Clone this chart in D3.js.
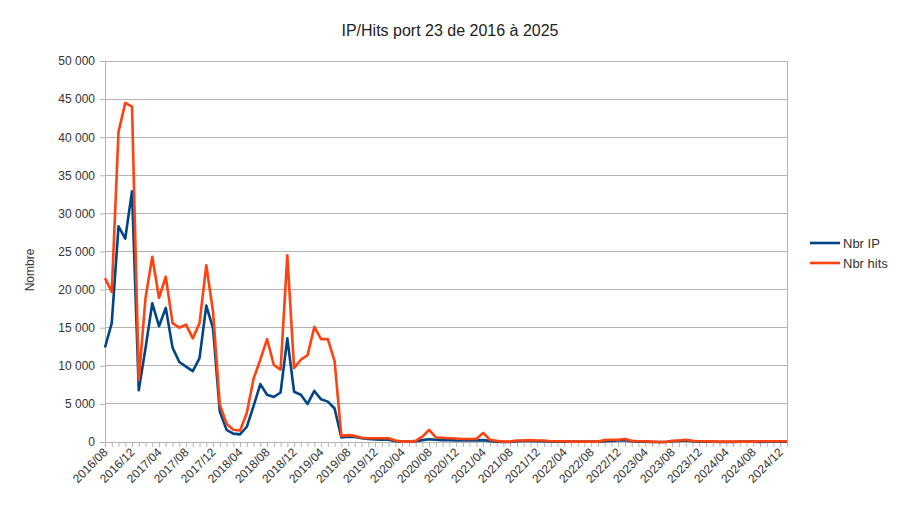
<!DOCTYPE html>
<html><head><meta charset="utf-8">
<script src="https://cdn.jsdelivr.net/npm/d3@7"></script>
<style>body{margin:0;background:#fff}svg{display:block;font-family:"Liberation Sans",Arial,sans-serif}</style>
</head><body>
<script>
const title = "IP/Hits port 23 de 2016 à 2025";
const yTitle = "Nombre";
const seriesNames = ["Nbr IP", "Nbr hits"];
const startYear = 2016, startMonth = 8, nMonths = 102;
const yTicks = [0,5000,10000,15000,20000,25000,30000,35000,40000,45000,50000];
const nbrIP = [12400,15600,28300,26700,32900,6800,12300,18200,15200,17600,
  12400,10500,9900,9300,11000,17900,14900,4000,1600,1100,
  1000,2000,4700,7600,6200,5900,6500,13600,6600,6200,
  5000,6700,5600,5300,4400,600,700,650,500,400,
  350,300,300,100,50,50,100,250,350,300,
  250,250,200,200,200,200,250,150,50,0,
  0,100,150,150,100,100,50,50,50,50,
  50,50,50,50,100,150,200,250,100,50,
  50,0,0,0,100,150,200,100,50,50,
  50,0,0,0,50,50,50,0,50,50,
  50,50];
const nbrHits = [21500,19700,40700,44500,44000,8100,18900,24300,18900,21700,
  15600,15000,15400,13600,15600,23200,17100,4900,2400,1600,
  1500,3800,8300,10800,13500,10100,9500,24500,9700,10800,
  11400,15100,13500,13500,10600,800,900,800,550,500,
  500,500,500,200,50,50,150,700,1600,600,
  550,500,450,400,400,400,1200,300,150,50,
  50,200,200,250,200,200,100,100,100,50,
  50,50,50,50,250,300,300,400,150,100,
  100,50,0,0,150,200,300,150,100,100,
  50,50,50,50,50,50,50,100,100,100,
  100,100];
const months = d3.range(nMonths).map(i => {
  const m = startMonth - 1 + i;
  const y = startYear + Math.floor(m / 12);
  const mm = (m % 12) + 1;
  return y + "/" + String(mm).padStart(2, "0");
});

const W = 900, H = 506;
const L = 105, R = 787, T = 61, B = 442;
const svg = d3.select("body").append("svg").attr("width", W).attr("height", H);

const x = d3.scalePoint().domain(months).range([L, R]);
const y = d3.scaleLinear().domain([0, 50000]).range([B, T]);
const fmt = v => d3.format(",")(v).replace(/,/g, "\u00a0");

// gridlines
svg.append("g").selectAll("line").data(yTicks).join("line")
  .attr("x1", L).attr("x2", R).attr("y1", d => y(d)).attr("y2", d => y(d))
  .attr("stroke", "#b3b3b3").attr("stroke-width", 1).attr("shape-rendering", "crispEdges");
svg.append("line").attr("x1", R).attr("x2", R).attr("y1", T).attr("y2", B)
  .attr("stroke", "#b3b3b3").attr("shape-rendering", "crispEdges");

// y axis
const yAxis = svg.append("g").attr("transform", `translate(${L},0)`)
  .call(d3.axisLeft(y).tickValues(yTicks).tickFormat(fmt).tickSize(5).tickPadding(5));
yAxis.select(".domain").attr("stroke", "#b3b3b3");
yAxis.selectAll(".tick line").attr("stroke", "#b3b3b3");
yAxis.selectAll("text").attr("font-size", 12).attr("fill", "#333").attr("font-family", "Liberation Sans, Arial, sans-serif");

// x axis
const xAxis = svg.append("g").attr("transform", `translate(0,${B})`)
  .call(d3.axisBottom(x).tickSize(5).tickFormat((d, i) => i % 4 === 0 ? d : ""));
xAxis.select(".domain").attr("stroke", "#b3b3b3");
xAxis.selectAll(".tick line").attr("stroke", "#b3b3b3");
xAxis.selectAll(".tick text")
  .attr("font-size", 12).attr("fill", "#333").attr("font-family", "Liberation Sans, Arial, sans-serif")
  .attr("text-anchor", "end").attr("dy", null).attr("y", 0)
  .attr("transform", "translate(3,11) rotate(-45)");

// lines
const colors = ["#004586", "#ff420e"];
const data = [nbrIP, nbrHits];
const line = d3.line().x((d, i) => x(months[i])).y(d => y(d));
data.forEach((s, j) => {
  svg.append("path").datum(s).attr("d", line).attr("fill", "none")
    .attr("stroke", colors[j]).attr("stroke-width", 2.6).attr("stroke-linejoin", "round");
});

// title
svg.append("text").attr("x", 450).attr("y", 36).attr("text-anchor", "middle")
  .attr("font-size", 16).attr("fill", "#222").text(title);
// y title
svg.append("text").attr("transform", "translate(34,270) rotate(-90)").attr("text-anchor", "middle")
  .attr("font-size", 12).attr("fill", "#333").text(yTitle);

// legend
const lg = svg.append("g");
seriesNames.forEach((n, j) => {
  const yy = 243 + j * 20;
  lg.append("line").attr("x1", 810).attr("x2", 840).attr("y1", yy).attr("y2", yy)
    .attr("stroke", colors[j]).attr("stroke-width", 2.6);
  lg.append("text").attr("x", 843).attr("y", yy + 4.5).attr("font-size", 13)
    .attr("fill", "#333").text(n);
});
</script>
</body></html>
